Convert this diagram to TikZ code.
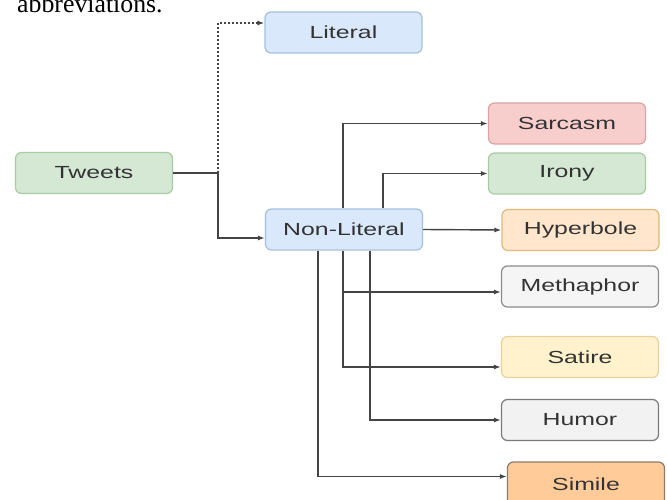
\documentclass[tikz,border=0pt]{standalone}
\usepackage{fontspec}
\setmainfont{Liberation Sans}
\newfontfamily\seriffont{Liberation Serif}
\usetikzlibrary{arrows.meta}
\definecolor{txt}{HTML}{333333}
\definecolor{ln}{HTML}{444444}
\definecolor{bluef}{HTML}{DAE8FC}\definecolor{blued}{HTML}{A6BFDD}
\definecolor{greenf}{HTML}{D5E8D4}\definecolor{greend}{HTML}{A9CBA3}
\definecolor{redf}{HTML}{F8CECC}\definecolor{redd}{HTML}{D9A3A1}
\definecolor{orf}{HTML}{FFE6CC}\definecolor{ord}{HTML}{E3B878}
\definecolor{grf}{HTML}{F5F5F5}\definecolor{grd}{HTML}{8A8A8A}
\definecolor{yef}{HTML}{FFF2CC}\definecolor{yed}{HTML}{E6D29A}
\definecolor{hgf}{HTML}{F2F2F2}\definecolor{hgd}{HTML}{7A7A7A}
\definecolor{sif}{HTML}{FFCC99}\definecolor{sid}{HTML}{8C7B6B}
\tikzset{
  box/.style={draw, rounded corners=6pt, line width=1.2pt, minimum width=157pt, minimum height=41pt,
    inner sep=0pt, text=txt, font=\fontsize{17.5pt}{18pt}\selectfont},
  conn/.style={draw=ln, line width=1.4pt, -{Latex[length=7pt,width=5pt]}},
  plain/.style={draw=ln, line width=1.4pt},
  dotconn/.style={conn, dash pattern=on 2pt off 2pt}
}
\newcommand{\wt}[1]{\scalebox{1.42}[1]{#1}}
\begin{document}
\begin{tikzpicture}[x=1pt,y=-1pt]
\useasboundingbox (0,0) rectangle (667,500);
\fill[white] (0,0) rectangle (667,500);
\node[anchor=base west, inner sep=0pt, font=\seriffont\fontsize{25.8pt}{28pt}\selectfont] (abbr) at (17,12.7) {abbreviations.};

\node[box, fill=bluef, draw=blued] (lit) at (343.5,32.5) {\wt{Literal}};
\node[box, fill=greenf, draw=greend] (tw) at (94,173) {\wt{Tweets}};
\node[box, fill=bluef, draw=blued] (nl) at (344,229.5) {\wt{Non-Literal}};
\node[box, fill=redf, draw=redd] (sar) at (567,123.5) {\wt{Sarcasm}};
\node[box, fill=greenf, draw=greend] (iro) at (567,173.5) {\wt{Irony}};
\node[box, fill=orf, draw=ord] (hyp) at (580.5,230) {\wt{Hyperbole}};
\node[box, fill=grf, draw=grd] (met) at (580,286.5) {\wt{Methaphor}};
\node[box, fill=yef, draw=yed] (sat) at (580,357) {\wt{Satire}};
\node[box, fill=hgf, draw=hgd] (hum) at (580,420) {\wt{Humor}};
\node[box, fill=sif, draw=sid, minimum height=44pt] (sim) at (586,484) {\wt{Simile}};

\coordinate (j0) at (218,173);
\draw[plain] (tw.east) -- (j0);
\draw[dotconn] (j0) |- ([yshift=9.5pt]lit.west);
\draw[conn] (j0) |- ([yshift=-8.5pt]nl.west);

\draw[conn] ([xshift=-1pt]nl.north) |- (sar.west);
\draw[conn] ([xshift=39pt]nl.north) |- (iro.west);
\draw[conn] (nl.east) -- (hyp.west);
\draw[conn] ([xshift=-1pt]nl.south) |- ([yshift=-5.5pt]met.west);
\draw[conn] ([xshift=-1pt]nl.south) |- ([yshift=-10pt]sat.west);
\draw[conn] ([xshift=26pt]nl.south) |- (hum.west);
\draw[conn] ([xshift=-26pt]nl.south) |- ([yshift=7.5pt]sim.west);
\end{tikzpicture}
\end{document}
